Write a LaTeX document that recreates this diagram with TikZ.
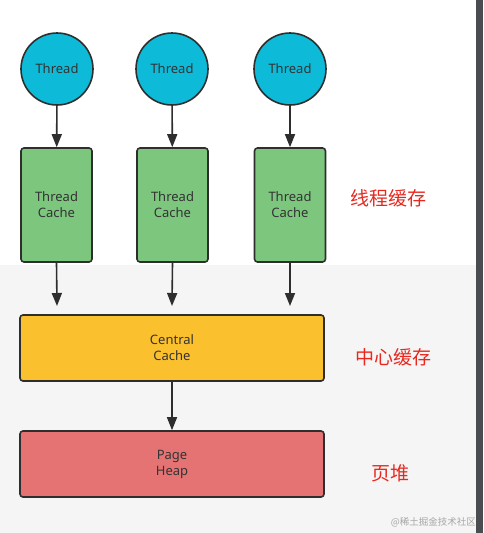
\documentclass[tikz,border=0pt]{standalone}
\usepackage{fontspec}
\setmainfont{Noto Sans}
\newfontfamily\cjk{Noto Sans CJK SC}
\usetikzlibrary{arrows.meta}
\definecolor{thrcol}{HTML}{0DBAD8}
\definecolor{tccol}{HTML}{7DC67E}
\definecolor{cccol}{HTML}{FBC02D}
\definecolor{phcol}{HTML}{E57373}
\definecolor{edgecol}{HTML}{2E2E2E}
\definecolor{txtcol}{HTML}{333333}
\definecolor{lblcol}{HTML}{E8281E}
\definecolor{bggray}{HTML}{F5F5F5}
\definecolor{stripcol}{HTML}{4A4D4F}
\tikzset{
  threadnode/.style={circle, draw=edgecol, line width=1.6pt, fill=thrcol, minimum size=72pt, inner sep=0pt, text=txtcol, font=\fontsize{13}{15}\selectfont},
  tcbox/.style={rectangle, rounded corners=3pt, draw=edgecol, line width=1.6pt, fill=tccol, minimum width=71pt, minimum height=114pt, inner sep=0pt, text=txtcol, align=center, font=\fontsize{13}{16}\selectfont},
  widebox/.style={rectangle, rounded corners=3pt, draw=edgecol, line width=1.6pt, minimum width=304pt, minimum height=66pt, inner sep=0pt, text=txtcol, align=center, font=\fontsize{13}{16}\selectfont},
  conn/.style={draw=edgecol, line width=1.6pt, -{Triangle[length=13pt,width=10pt]}},
  cnlabel/.style={text=lblcol, font=\cjk\fontsize{19}{22}\selectfont, inner sep=0pt},
}
\begin{document}
\begin{tikzpicture}[x=1pt,y=-1pt]
\useasboundingbox (0,0) rectangle (483,533);
\fill[white] (0,0) rectangle (483,533);
\fill[bggray] (0,265) rectangle (476,533);
\fill[stripcol] (476,0) rectangle (483,533);

\node[threadnode] (t1) at (57,69) {Thread};
\node[threadnode] (t2) at (172,69) {Thread};
\node[threadnode] (t3) at (290,69) {Thread};

\node[tcbox] (c1) at (56.5,205) {Thread\\Cache};
\node[tcbox] (c2) at (172.5,205) {Thread\\Cache};
\node[tcbox] (c3) at (290,205) {Thread\\Cache};

\node[widebox, fill=cccol] (cc) at (172,348) {Central\\Cache};
\node[widebox, fill=phcol] (ph) at (172,464) {Page\\Heap};

\coordinate (e1) at (57,306);
\coordinate (e2) at (172,306);
\coordinate (e3) at (290,306);

\draw[conn] (t1) -- (c1);
\draw[conn] (t2) -- (c2);
\draw[conn] (t3) -- (c3);
\draw[conn] (c1.south) -- (e1);
\draw[conn] (c2.south) -- (e2);
\draw[conn] (c3.south) -- (e3);
\draw[conn] (cc) -- (ph);

\node[cnlabel] (l1) at (388.5,198) {线程缓存};
\node[cnlabel] (l2) at (393.5,357) {中心缓存};
\node[cnlabel] (l3) at (390.5,473) {页堆};

\node[text=gray!70, font=\cjk\fontsize{9.5}{11}\selectfont, inner sep=0pt, anchor=east] (wm) at (476,522) {@稀土掘金技术社区};
\end{tikzpicture}
\end{document}
